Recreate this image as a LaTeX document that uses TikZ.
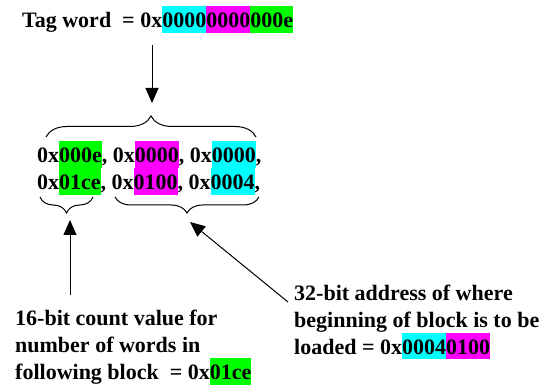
\documentclass[tikz,border=0pt]{standalone}
\usepackage{fontspec}
\setmainfont{Liberation Serif}
\usetikzlibrary{arrows.meta,decorations.pathreplacing}
\definecolor{hlcyan}{HTML}{00FFFF}
\definecolor{hlmag}{HTML}{FF00FF}
\definecolor{hlgreen}{HTML}{00FF00}
\newcommand{\hlbox}[2]{{\setlength{\fboxsep}{0pt}\colorbox{#1}{\vrule height 21.5pt depth 5.5pt width 0pt #2}}}
\begin{document}
\begin{tikzpicture}[x=1pt,y=1pt,
  txt/.style={inner sep=0pt, anchor=base west, align=left,
    font=\fontsize{22}{26.6}\selectfont\bfseries},
  brc/.style={decorate, decoration={brace, amplitude=#1}, line width=1pt},
  arr/.style={-{Triangle[length=15pt,width=13pt]}, line width=1pt}]
\useasboundingbox (0,0) rectangle (555,-385);
\node[txt] (title) at (22,-28) {Tag word\ \ = 0x\hlbox{hlcyan}{0000}\hlbox{hlmag}{0000}\hlbox{hlgreen}{000e}};
\node[txt] (row1) at (37,-163) {0x\hlbox{hlgreen}{000e}, 0x\hlbox{hlmag}{0000}, 0x\hlbox{hlcyan}{0000},};
\node[txt] (row2) at (37,-190) {0x\hlbox{hlgreen}{01ce}, 0x\hlbox{hlmag}{0100}, 0x\hlbox{hlcyan}{0004},};
\node[txt] (count) at (15,-379) {16-bit count value for\\number of words in\\following block\ \ = 0x\hlbox{hlgreen}{01ce}};
\node[txt] (addr) at (294,-354) {32-bit address of where\\beginning of block is to be\\loaded = 0x\hlbox{hlcyan}{0004}\hlbox{hlmag}{0100}};
% braces
\draw[brc=21] (46,-137) -- (256,-137);
\draw[brc=16] (93,-197) -- (40,-197);
\draw[brc=16] (259,-197) -- (115,-197);
% arrow ends
\coordinate (t0) at (152,-45);
\coordinate (t1) at (152,-103);
\coordinate (c0) at (70,-295);
\coordinate (c1) at (70,-220);
\coordinate (a0) at (288,-302);
\coordinate (a1) at (190,-222);
\draw[arr] (t0) -- (t1);
\draw[arr] (c0) -- (c1);
\draw[arr] (a0) -- (a1);
\end{tikzpicture}
\end{document}
